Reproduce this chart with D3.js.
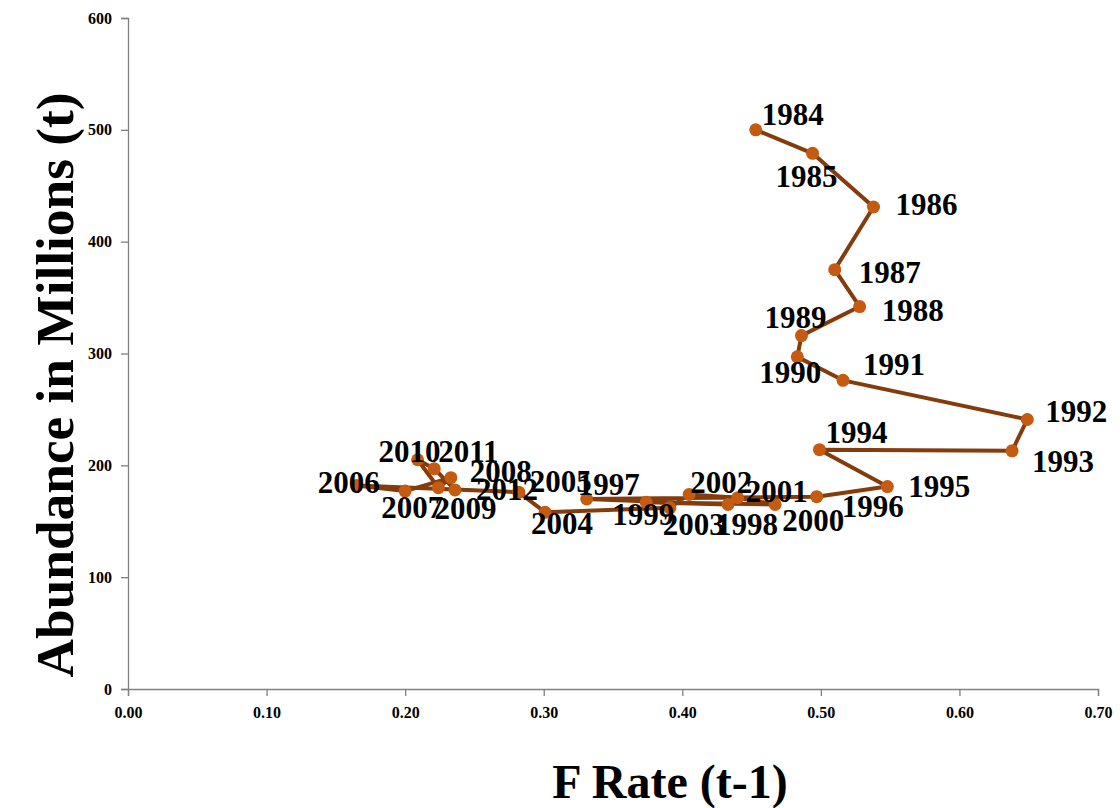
<!DOCTYPE html>
<html>
<head>
<meta charset="utf-8">
<script src="https://cdn.jsdelivr.net/npm/d3@7"></script>
<style>
  html, body { margin: 0; padding: 0; background: #fff; }
  svg { display: block; }
  text { font-family: "Liberation Serif", "Times New Roman", serif; font-weight: bold; fill: #000; }
</style>
</head>
<body>
<svg id="chart" width="1120" height="808"></svg>
<script>
// ---- data ----
const years = [1984,1985,1986,1987,1988,1989,1990,1991,1992,1993,1994,1995,1996,1997,1998,1999,2000,2001,2002,2003,2004,2005,2006,2007,2008,2009,2010,2011,2012];
const fRate = [0.453,0.494,0.538,0.510,0.528,0.486,0.483,0.516,0.649,0.638,0.499,0.548,0.497,0.331,0.433,0.374,0.467,0.440,0.405,0.391,0.301,0.282,0.165,0.200,0.233,0.224,0.209,0.221,0.236];
const abundance = [500,479,431,375,342,316,297,276,241,213,214,181,172,170,165,167,165,171,174,162,158,176,182,177,189,180,205,197,178];
const xTicks = [0,0.1,0.2,0.3,0.4,0.5,0.6,0.7];
const yTicks = [0,100,200,300,400,500,600];
const xTitle = "F Rate (t-1)";
const yTitle = "Abundance in Millions (t)";

// ---- label layout (offset of label left/baseline from its point) ----
const labelDx = [6,-37,22,24,22,-37,-38,20,18,20,6,21,25,-9,-12,-34,7,8,1,-7,-14,11,-39,-24,19,-4,-39,4,21];
const labelDy = [-5,34,8,13,14,-8,26,-5,3,21,-7,10,20,-4,31,23,27,4,-1,27,22,0,8,27,4,31,2,-7,10];

const svg = d3.select("#chart");
const x = d3.scaleLinear().domain([0,0.7]).range([128,1098]);
const y = d3.scaleLinear().domain([0,600]).range([689,18]);

const axisColor = "#808080";

// x axis
const gx = svg.append("g").attr("transform", "translate(0,689)")
  .call(d3.axisBottom(x).tickValues(xTicks).tickFormat(d3.format(".2f")).tickSize(7).tickPadding(11));
gx.select(".domain").attr("stroke", axisColor).attr("stroke-width", 1.3);
gx.selectAll(".tick line").attr("stroke", axisColor).attr("stroke-width", 1.3);
gx.selectAll(".tick text").style("font-size", "16px").style("font-family", '"Liberation Serif", serif').style("font-weight", "bold").attr("fill", "#000");

// y axis
const gy = svg.append("g").attr("transform", "translate(128,0)")
  .call(d3.axisLeft(y).tickValues(yTicks).tickSize(7).tickPadding(9));
gy.select(".domain").attr("stroke", axisColor).attr("stroke-width", 1.3);
gy.selectAll(".tick line").attr("stroke", axisColor).attr("stroke-width", 1.3);
gy.selectAll(".tick text").style("font-size", "16px").style("font-family", '"Liberation Serif", serif').style("font-weight", "bold").attr("fill", "#000");

// line
const pts = years.map((yr, i) => ({year: yr, f: fRate[i], a: abundance[i], dx: labelDx[i], dy: labelDy[i]}));
svg.append("path")
  .datum(pts)
  .attr("fill", "none")
  .attr("stroke", "#843C0C")
  .attr("stroke-width", 4)
  .attr("stroke-linejoin", "round")
  .attr("d", d3.line().x(d => x(d.f)).y(d => y(d.a)));

// markers
svg.append("g").selectAll("circle").data(pts).join("circle")
  .attr("cx", d => x(d.f)).attr("cy", d => y(d.a)).attr("r", 6.5)
  .attr("fill", "#C55A11");

// labels
svg.append("g").selectAll("text").data(pts).join("text")
  .attr("x", d => x(d.f) + d.dx)
  .attr("y", d => y(d.a) + d.dy)
  .style("font-size", "31px")
  .text(d => d.year);

// axis titles
svg.append("text")
  .attr("x", 670).attr("y", 798)
  .attr("text-anchor", "middle")
  .style("font-size", "48px")
  .text(xTitle);

svg.append("text")
  .attr("transform", "translate(73,385) rotate(-90)")
  .attr("text-anchor", "middle")
  .attr("textLength", 585)
  .attr("lengthAdjust", "spacingAndGlyphs")
  .style("font-size", "52px")
  .text(yTitle);
</script>
</body>
</html>
